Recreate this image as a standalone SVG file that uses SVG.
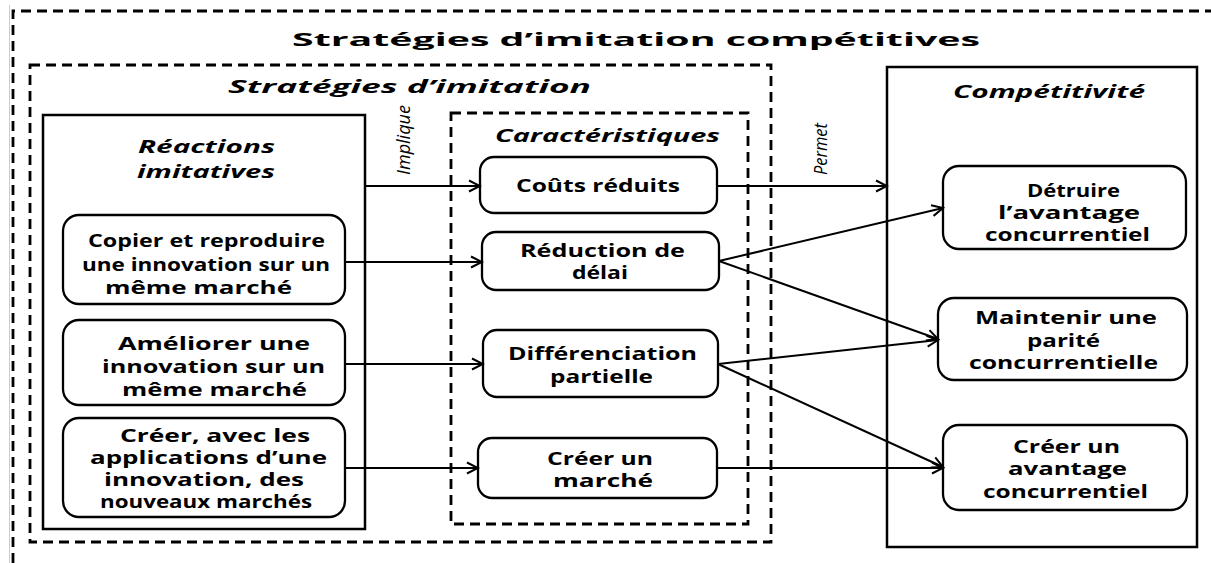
<svg xmlns="http://www.w3.org/2000/svg" width="1211" height="563" viewBox="0 0 1211 563">
<style>
.dash{fill:none;stroke:#000;stroke-width:2.8;stroke-dasharray:10 6}
.box{fill:#fff;stroke:#000;stroke-width:2.5}
.node{fill:#fff;stroke:#000;stroke-width:2.3}
.t{font-family:"Open Sans","Liberation Sans",sans-serif;font-weight:700;font-size:18px;fill:#000}
.ti{font-family:"Open Sans","Liberation Sans",sans-serif;font-weight:700;font-style:italic;font-size:18px;fill:#000}
.lab{font-family:"Open Sans","Liberation Sans",sans-serif;font-weight:400;font-style:italic;font-size:19px;fill:#000}
.c{fill:none;stroke:#000;stroke-width:2;marker-end:url(#ah)}
</style>
<defs>
<marker id="ah" markerUnits="userSpaceOnUse" markerWidth="14" markerHeight="14" viewBox="0 0 14 14" refX="12" refY="7" orient="auto">
<path d="M1,1.5 L12,7 L1,12.5" fill="none" stroke="#000" stroke-width="2"/>
</marker>
</defs>
<rect width="1211" height="563" fill="#fff"/>
<line x1="9.5" y1="5" x2="9.5" y2="563" stroke="#f0e000" stroke-width="1"/>

<g id="outer">
<path class="dash" d="M13,563 L13,11 L1211,11"/>
<text class="t" x="292" y="46" font-size="26" textLength="688" lengthAdjust="spacingAndGlyphs">Stratégies d’imitation compétitives</text>
</g>

<g id="strategies">
<rect class="dash" x="30" y="65" width="741" height="477"/>
<text class="ti" x="228" y="93" font-size="21" textLength="363" lengthAdjust="spacingAndGlyphs">Stratégies d’imitation</text>
</g>

<g id="caracteristiques">
<rect class="dash" x="451" y="113" width="297" height="411"/>
<text class="ti" x="495" y="142" textLength="225" lengthAdjust="spacingAndGlyphs">Caractéristiques</text>
</g>

<g id="reactions">
<rect class="box" x="43" y="115" width="322" height="414"/>
<text class="ti" x="138" y="153" textLength="137" lengthAdjust="spacingAndGlyphs">Réactions</text>
<text class="ti" x="137" y="178" textLength="138" lengthAdjust="spacingAndGlyphs">imitatives</text>
</g>

<g id="competitivite">
<rect class="box" x="887" y="67" width="310" height="480"/>
<text class="ti" x="953" y="98" textLength="192" lengthAdjust="spacingAndGlyphs">Compétitivité</text>
</g>

<g id="copier">
<rect class="node" x="63" y="215" width="282" height="89" rx="16"/>
<text class="t" x="88" y="247" textLength="237" lengthAdjust="spacingAndGlyphs">Copier et reproduire</text>
<text class="t" x="82" y="271" textLength="248" lengthAdjust="spacingAndGlyphs">une innovation sur un</text>
<text class="t" x="105" y="294" textLength="187" lengthAdjust="spacingAndGlyphs">même marché</text>
</g>

<g id="ameliorer">
<rect class="node" x="63" y="320" width="282" height="85" rx="16"/>
<text class="t" x="118" y="350" textLength="192" lengthAdjust="spacingAndGlyphs">Améliorer une</text>
<text class="t" x="102" y="373" textLength="223" lengthAdjust="spacingAndGlyphs">innovation sur un</text>
<text class="t" x="122" y="396" textLength="185" lengthAdjust="spacingAndGlyphs">même marché</text>
</g>

<g id="creer-marches">
<rect class="node" x="63" y="418" width="282" height="99" rx="16"/>
<text class="t" x="120" y="442" font-size="16" textLength="190" lengthAdjust="spacingAndGlyphs">Créer, avec les</text>
<text class="t" x="90" y="464" font-size="16" textLength="237" lengthAdjust="spacingAndGlyphs">applications d’une</text>
<text class="t" x="104" y="486" font-size="16" textLength="200" lengthAdjust="spacingAndGlyphs">innovation, des</text>
<text class="t" x="100" y="508" font-size="16" textLength="212" lengthAdjust="spacingAndGlyphs">nouveaux marchés</text>
</g>

<g id="couts">
<rect class="node" x="480" y="157" width="237" height="56" rx="14"/>
<text class="t" x="516" y="192" textLength="164" lengthAdjust="spacingAndGlyphs">Coûts réduits</text>
</g>

<g id="reduction">
<rect class="node" x="482" y="232" width="237" height="58" rx="14"/>
<text class="t" x="520" y="257" textLength="165" lengthAdjust="spacingAndGlyphs">Réduction de</text>
<text class="t" x="572" y="279" textLength="56" lengthAdjust="spacingAndGlyphs">délai</text>
</g>

<g id="differenciation">
<rect class="node" x="483" y="330" width="235" height="67" rx="14"/>
<text class="t" x="508" y="360" textLength="189" lengthAdjust="spacingAndGlyphs">Différenciation</text>
<text class="t" x="550" y="383" textLength="103" lengthAdjust="spacingAndGlyphs">partielle</text>
</g>

<g id="creer-marche">
<rect class="node" x="478" y="438" width="239" height="60" rx="14"/>
<text class="t" x="547" y="465" textLength="106" lengthAdjust="spacingAndGlyphs">Créer un</text>
<text class="t" x="553" y="487" textLength="100" lengthAdjust="spacingAndGlyphs">marché</text>
</g>

<g id="detruire">
<rect class="node" x="943" y="166" width="243" height="83" rx="16"/>
<text class="t" x="1027" y="197" textLength="93" lengthAdjust="spacingAndGlyphs">Détruire</text>
<text class="t" x="998" y="219" textLength="142" lengthAdjust="spacingAndGlyphs">l’avantage</text>
<text class="t" x="985" y="241" textLength="165" lengthAdjust="spacingAndGlyphs">concurrentiel</text>
</g>

<g id="maintenir">
<rect class="node" x="938" y="298" width="249" height="82" rx="16"/>
<text class="t" x="975" y="324" textLength="182" lengthAdjust="spacingAndGlyphs">Maintenir une</text>
<text class="t" x="1027" y="347" textLength="73" lengthAdjust="spacingAndGlyphs">parité</text>
<text class="t" x="969" y="369" textLength="189" lengthAdjust="spacingAndGlyphs">concurrentielle</text>
</g>

<g id="creer-avantage">
<rect class="node" x="943" y="425" width="244" height="85" rx="16"/>
<text class="t" x="1013" y="453" textLength="107" lengthAdjust="spacingAndGlyphs">Créer un</text>
<text class="t" x="1008" y="475" textLength="119" lengthAdjust="spacingAndGlyphs">avantage</text>
<text class="t" x="983" y="498" textLength="165" lengthAdjust="spacingAndGlyphs">concurrentiel</text>
</g>

<g id="connectors">
<line class="c" x1="365" y1="186" x2="480" y2="186"/>
<line class="c" x1="345" y1="262" x2="482" y2="262"/>
<line class="c" x1="345" y1="364" x2="483" y2="364"/>
<line class="c" x1="345" y1="468" x2="478" y2="468"/>
<line class="c" x1="717" y1="186" x2="887" y2="186"/>
<line class="c" x1="719" y1="261" x2="943" y2="208"/>
<line class="c" x1="719" y1="261" x2="938" y2="339"/>
<line class="c" x1="718" y1="364" x2="938" y2="340"/>
<line class="c" x1="718" y1="364" x2="943" y2="467"/>
<line class="c" x1="717" y1="468" x2="943" y2="468"/>
<text class="lab" transform="translate(410,175) rotate(-90)" x="0" y="0" textLength="70" lengthAdjust="spacingAndGlyphs">Implique</text>
<text class="lab" transform="translate(827,175) rotate(-90)" x="0" y="0" textLength="52" lengthAdjust="spacingAndGlyphs">Permet</text>
</g>
</svg>
